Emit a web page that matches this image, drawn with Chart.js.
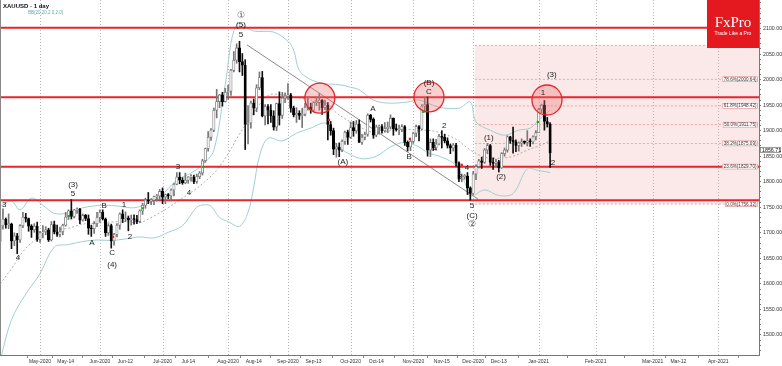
<!DOCTYPE html>
<html><head><meta charset="utf-8">
<script src="https://cdn.jsdelivr.net/npm/chart.js@4.4.1/dist/chart.umd.min.js"></script>
<style>html,body{margin:0;padding:0;background:#fff;}#wrap{position:relative;width:782px;height:366px;}</style>
</head><body><div id="wrap"><canvas id="c" width="782" height="366"></canvas></div>
<script>
// ---- DATA (trading-day index: 0 = 1 May 2020) ----
const firstIndex = -14;
const opens = [1683,1714,1727,1716,1717,1684,1694,1686,1714,1731,1728,1713,1706,1713,
1687,1700,1702,1706,1686,1716,1702,1697,1702,1715,1731,1743,1732,1745,1746,1725,1734,1728,1709,1708,1718,
1730,1740,1727,1700,1714,1684,1697,1715,1737,1727,1729,1725,1727,1726,1722,1743,1754,1764,1762,1764,1771,1772,
1781,1770,1775,1772,1784,1795,1809,1803,1798,1803,1809,1809,1800,1810,1817,1841,1865,1887,1901,1940,1957,1970,1957,
1975,1977,2018,2038,2062,2035,2028,1912,1915,1954,1944,1984,2004,1929,1947,1940,1929,1907,1953,1930,1964,
1968,1970,1944,1931,1934,1930,1932,1946,1946,1940,1955,1955,1960,1945,1950,1912,1900,1864,1868,1862,1879,1897,
1887,1906,1900,1913,1877,1887,1893,1930,1922,1891,1907,1908,1900,1904,1907,1924,1904,1902,1902,1908,1877,1868,
1879,1895,1908,1903,1948,1951,1862,1877,1866,1874,1889,1887,1880,1871,1866,1872,1837,1805,1810,1811,1788,
1777,1815,1830,1841,1838,1862,1871,1838,1836,1839,1827,1855,1862,1888,1881,1878,1871,1876,1878,1877,1880,1878,1888,
1896,1942,1950,1918,1913];
const highs = [1721,1747,1729,1737,1719,1700,1699,1716,1740,1738,1729,1716,1718,1721,
1703,1714,1712,1709,1722,1723,1715,1711,1717,1740,1745,1765,1746,1749,1748,1737,1736,1735,1715,1722,1740,
1745,1745,1729,1718,1717,1699,1718,1739,1745,1741,1733,1735,1735,1734,1745,1758,1768,1779,1767,1772,1775,1785,
1788,1776,1777,1786,1797,1818,1818,1808,1817,1810,1814,1813,1815,1820,1844,1866,1898,1904,1944,1981,1971,1975,1983,
1989,2020,2055,2070,2075,2051,2039,1949,1958,1962,1990,2015,2016,1951,1951,1951,1939,1954,1976,1975,1974,
1992,1973,1948,1945,1939,1944,1954,1966,1954,1957,1966,1973,1961,1960,1955,1918,1905,1875,1876,1882,1899,1901,
1917,1918,1920,1921,1893,1897,1933,1932,1925,1911,1911,1912,1916,1917,1931,1925,1913,1911,1912,1910,1880,1881,
1897,1911,1910,1951,1965,1966,1884,1884,1883,1893,1900,1893,1886,1874,1875,1875,1839,1815,1814,1818,1790,
1820,1833,1844,1848,1865,1875,1873,1847,1844,1842,1857,1866,1890,1889,1907,1882,1878,1884,1880,1900,1884,1890,1900,
1944,1952,1959,1926,1916];
const lows = [1680,1707,1709,1708,1669,1675,1659,1681,1710,1721,1703,1691,1701,1683,
1681,1690,1696,1683,1684,1698,1693,1692,1696,1713,1726,1727,1729,1738,1718,1723,1724,1697,1693,1699,1712,
1721,1725,1693,1695,1670,1676,1692,1707,1720,1722,1704,1715,1717,1718,1720,1736,1748,1757,1755,1755,1762,1765,
1757,1757,1767,1762,1772,1794,1796,1795,1796,1797,1801,1796,1797,1806,1813,1838,1860,1881,1898,1925,1945,1948,1956,
1961,1969,2015,2032,2015,2008,1863,1874,1905,1931,1937,1980,1927,1911,1913,1916,1901,1900,1911,1924,1955,
1961,1936,1927,1916,1922,1906,1929,1940,1934,1937,1949,1940,1932,1941,1882,1891,1853,1848,1849,1859,1873,1873,
1885,1889,1895,1877,1873,1882,1889,1917,1885,1888,1893,1895,1897,1896,1903,1891,1899,1892,1898,1871,1860,1861,
1875,1888,1880,1902,1936,1850,1849,1861,1862,1872,1866,1876,1866,1855,1860,1830,1800,1800,1805,1775,1764,
1775,1804,1827,1826,1836,1855,1832,1824,1830,1819,1826,1850,1858,1875,1856,1859,1860,1869,1874,1870,1869,1874,1882,
1896,1935,1901,1907,1828];
const closes = [1714,1727,1716,1717,1684,1694,1686,1714,1731,1728,1713,1706,1713,1687,
1700,1702,1706,1686,1716,1702,1697,1702,1715,1731,1743,1732,1745,1746,1725,1734,1728,1709,1708,1718,1730,
1740,1727,1700,1714,1684,1697,1715,1737,1727,1729,1725,1727,1726,1722,1743,1754,1764,1762,1764,1771,1772,1781,
1770,1775,1772,1784,1795,1809,1803,1798,1803,1809,1809,1800,1810,1817,1841,1865,1887,1901,1940,1957,1970,1957,1975,
1977,2018,2038,2062,2035,2028,1912,1915,1954,1944,1984,2004,1929,1947,1940,1929,1907,1953,1930,1964,1968,
1970,1944,1931,1934,1930,1932,1946,1946,1940,1955,1955,1960,1945,1950,1912,1900,1864,1868,1862,1879,1897,1887,
1906,1900,1913,1877,1887,1893,1930,1922,1891,1907,1908,1900,1904,1907,1924,1904,1902,1902,1908,1877,1868,1879,
1895,1908,1903,1948,1951,1862,1877,1866,1874,1889,1887,1880,1871,1866,1872,1837,1805,1810,1811,1788,1777,
1815,1830,1841,1838,1862,1871,1838,1836,1839,1827,1855,1862,1888,1881,1878,1871,1876,1878,1877,1880,1878,1888,1896,
1942,1950,1918,1913,1856.71];

// Bollinger bands (index, price)
const bbUpperIdx = [-14,-10,-7,-3,1,5,10,15,22,28,33,38,42,48,53,57,61,65,69,75,82,87,89,91,95,100,105,109,112,117,122,129,133,140,147,151,153,158,163,168,172,175,179];
const bbUpperVal = [1752,1762,1745,1768,1754,1738,1739,1749,1754,1752,1749,1758,1770,1803,1817,1833,1862,1990,2108,2095,2093,2075,2058,2018,2000,1992,1990,1985,1980,1960,1954,1956,1960,1946,1944,1956,1917,1901,1891,1901,1905,1921,1940];
const bbMidIdx = [-14,-10,-5,0,5,10,15,20,25,30,35,40,45,50,55,60,63,66,70,75,80,85,90,95,100,104,108,113,118,123,128,133,136,141,146,151,156,161,166,171,175,179];
const bbMidVal = [1600,1630,1670,1692,1705,1709,1717,1719,1721,1722,1720,1733,1749,1768,1787,1811,1830,1855,1893,1935,1969,1970,1965,1960,1955,1935,1920,1905,1895,1900,1903,1900,1901,1895,1883,1862,1848,1846,1850,1862,1870,1880];
const bbLowerIdx = [-14,-10,-5,0,5,10,15,20,25,30,35,40,45,50,55,58,60,63,66,70,73,75,77,80,85,90,95,100,102,104,108,113,118,123,128,133,136,141,146,149,151,156,161,166,171,175,179];
const bbLowerVal = [1450,1530,1580,1620,1672,1677,1683,1686,1685,1688,1692,1690,1701,1714,1750,1755,1752,1730,1722,1713,1740,1790,1850,1885,1880,1895,1905,1915,1900,1872,1856,1845,1850,1868,1877,1868,1857,1848,1832,1800,1772,1784,1773,1777,1825,1822,1818];

// horizontal levels
const redLevels = [2101.5, 1965.3, 1829.5, 1763.7];
const fibStartIdx = 152.6;
const fibValues = [2067.18, 2000.64, 1948.42, 1911.75, 1875.09, 1829.70, 1756.32];
const fibNames = ['100.0%(2067.18)','78.6%(2000.64)','61.8%(1948.42)','50.0%(1911.75)','38.2%(1875.09)','23.6%(1829.70)','0.0%(1756.32)'];
// trend line
const trendIdx = [72.6, 153.7];
const trendVal = [2068, 1766];
// circles
const circleIdx = [98.2, 136.5, 177.9];
const circleVal = [1963.8, 1966, 1960];
// wave labels
const ewText = ['3','4','(3)','5','A','B','C','(4)','1','2','3','4','①','(5)','5','(A)','A','B','(B)','C','1','2','3','4','5','(C)','②','(1)','(2)','1','(3)','2'];
const ewIdx = [-12.6,-7.7,11.6,11.6,18.2,22.5,25.3,25.3,29.5,31.6,48.4,52.3,70.5,70.5,70.5,106.3,116.8,129.5,136.5,136.5,138.6,141.8,147.4,149.8,151.6,151.6,151.6,157.5,161.8,176.5,179.6,180];
const ewPrice = [1754.5,1650.7,1793.6,1776,1680.1,1752.5,1660.5,1637,1754.5,1691.8,1828.9,1778,2124.5,2106.9,2087.3,1838.7,1942.4,1848.4,1993.3,1975.7,1866.1,1909.1,1809.3,1826.9,1752.5,1733,1715.3,1885.6,1809.3,1973.7,2009,1836.7];
// small signal dots
const dotIdx = [10.2, 25.6, 36.1, 57.2, 101.4, 129.8, 134.4, 148, 174.7];
const dotVal = [1733, 1692, 1748, 1829, 1921, 1884, 1937, 1833, 1917];
const dotColor = ['#2a2','#d22','#2a2','#2a2','#d22','#d22','#2a2','#d22','#2a2'];
// x-axis ticks
const xTickIdx = [0, 9, 21, 30, 43, 52, 66, 75, 87, 96, 109, 118, 131, 141, 152, 161, 175, 195, 215, 224, 238];
const xTickLabels = ['May-2020','May-14','Jun-2020','Jun-12','Jul-2020','Jul-14','Aug-2020','Aug-14','Sep-2020','Sep-13','Oct-2020','Oct-14','Nov-2020','Nov-15','Dec-2020','Dec-13','Jan-2021','Feb-2021','Mar-2021','Mar-12','Apr-2021'];
const monthIdx = [0, 21, 43, 66, 87, 109, 131, 152, 175, 195, 215, 238];
const lastPrice = 1856.71;

// ---- axis ranges ----
const xMin = -14.04, xMax = 252.3, yMin = 1460.8, yMax = 2155.8;

const idx = opens.map((_, k) => firstIndex + k);
const up = opens.map((o, k) => closes[k] >= o);
const pts = (xs, ys) => xs.map((x, k) => ({x, y: ys[k]}));
const line = (data, o) => Object.assign({type:'line', data, pointRadius:0, borderWidth:1, fill:false, order:5, tension:0}, o);

const datasets = [];
fibValues.forEach((v, k) => {
  datasets.push(line([{x: fibStartIdx, y: v}, {x: xMax, y: v}], {
    borderColor:'rgba(215,95,95,0.75)', borderWidth:0.7, borderDash:[2,2], order:20,
    fill: k === 0 ? fibValues.length - 1 : false, backgroundColor:'rgba(236,150,150,0.22)'
  }));
});
redLevels.forEach(v => datasets.push(line([{x:xMin,y:v},{x:xMax,y:v}], {borderColor:'#e5262c', borderWidth:2, order:4})));
datasets.push(line(pts(bbUpperIdx, bbUpperVal), {borderColor:'#9fcfd0', borderWidth:1, tension:0.35, order:6}));
datasets.push(line(pts(bbMidIdx, bbMidVal), {borderColor:'#9a9a9a', borderWidth:0.8, borderDash:[2,2], tension:0.35, order:6}));
datasets.push(line(pts(bbLowerIdx, bbLowerVal), {borderColor:'#9fcfd0', borderWidth:1, tension:0.35, order:6}));
datasets.push(line(pts(trendIdx, trendVal), {borderColor:'#8a8a8a', borderWidth:1, order:5}));
datasets.push({type:'bar', data: idx.map((x,k)=>({x, y:[lows[k], highs[k]]})), grouped:false, barThickness:1,
  backgroundColor: idx.map((_,k)=> up[k] ? '#777' : '#111'), borderWidth:0, order:3});
datasets.push({type:'bar', data: idx.map((x,k)=>({x, y:[opens[k], closes[k]]})), grouped:false, barThickness:2.4, minBarLength:1,
  backgroundColor: idx.map((_,k)=> up[k] ? '#ffffff' : '#000000'),
  borderColor: idx.map((_,k)=> up[k] ? '#7a7a7a' : '#000000'), borderWidth:0.8, borderSkipped:false, order:2});
datasets.push({type:'scatter', data: pts(circleIdx, circleVal), pointRadius:15, pointHoverRadius:15,
  backgroundColor:'rgba(240,110,110,0.33)', borderColor:'#e3262c', borderWidth:1.3, order:1});
datasets.push({type:'scatter', data: pts(dotIdx, dotVal), pointRadius:1.6, pointStyle:'rect',
  backgroundColor: dotColor, borderWidth:0, order:0});

const deco = {
  id:'deco',
  beforeDatasetsDraw(chart){
    const {ctx, chartArea:a, scales:{x}} = chart;
    ctx.save(); ctx.strokeStyle='#b5b5b5'; ctx.lineWidth=1; ctx.setLineDash([1,2]);
    monthIdx.forEach(v => { const px = Math.round(x.getPixelForValue(v)) + 0.5;
      ctx.beginPath(); ctx.moveTo(px, a.top); ctx.lineTo(px, a.bottom); ctx.stroke(); });
    ctx.restore();
  },
  afterDatasetsDraw(chart){
    const {ctx, chartArea:a, scales:{x, y}} = chart;
    ctx.save();
    ctx.textAlign='center'; ctx.textBaseline='middle'; ctx.fillStyle='#222';
    ewText.forEach((t, k) => {
      const circ = t === '①' || t === '②';
      ctx.font = circ ? '9px "DejaVu Sans"' : '8px "Liberation Sans"';
      ctx.fillStyle = circ ? '#555' : '#222';
      ctx.fillText(t, x.getPixelForValue(ewIdx[k]), y.getPixelForValue(ewPrice[k]));
    });
    // fib labels
    ctx.font='4.6px "Liberation Sans"'; ctx.textAlign='right';
    fibValues.forEach((v, k) => {
      const py = y.getPixelForValue(v); const w = ctx.measureText(fibNames[k]).width + 3;
      const rx = a.right - 1;
      ctx.fillStyle='#fff'; ctx.fillRect(rx - w, py - 3, w, 6);
      ctx.strokeStyle='rgba(215,95,95,0.8)'; ctx.lineWidth=0.6; ctx.strokeRect(rx - w + 0.5, py - 2.5, w - 1, 5);
      ctx.fillStyle='#333'; ctx.fillText(fibNames[k], rx - 1.5, py + 0.3);
    });
    ctx.restore();
  },
  afterDraw(chart){
    const {ctx, chartArea:a, scales:{y}} = chart;
    ctx.save();
    ctx.strokeStyle='#888'; ctx.lineWidth=1;
    ctx.beginPath(); ctx.moveTo(a.left+0.5, a.top); ctx.lineTo(a.left+0.5, a.bottom); ctx.stroke();
    // logo
    ctx.fillStyle='#e3191f'; ctx.fillRect(707, 0, a.right - 707, 48);
    ctx.fillStyle='#fff'; ctx.textAlign='center'; ctx.textBaseline='alphabetic';
    ctx.font='15px "Liberation Serif"'; ctx.fillText('FxPro', 733, 27);
    ctx.font='5px "Liberation Sans"'; ctx.fillText('Trade Like a Pro', 733, 35);
    // title
    ctx.textAlign='left'; ctx.fillStyle='#111'; ctx.font='bold 6px "Liberation Sans"';
    ctx.fillText('XAUUSD - 1 day', 3, 8);
    ctx.fillStyle='#5fa9a9'; ctx.font='4.5px "Liberation Sans"';
    ctx.fillText('BB(20,20,2.0,2.0)', 28, 14);
    // last price box
    const py = y.getPixelForValue(lastPrice) - 3;
    ctx.fillStyle='#fff'; ctx.fillRect(a.right + 1, py - 3, 21, 6);
    ctx.strokeStyle='#555'; ctx.lineWidth=0.6; ctx.strokeRect(a.right + 1.5, py - 2.5, 20, 5);
    ctx.fillStyle='#111'; ctx.font='5.3px "Liberation Sans"'; ctx.textBaseline='middle';
    ctx.fillText(lastPrice.toFixed(2), a.right + 3, py + 0.3);
    ctx.restore();
  }
};

const noPad = s => { s.paddingTop = 0; s.paddingBottom = 0; s.paddingLeft = 0; s.paddingRight = 0; };

new Chart(document.getElementById('c'), {
  type:'bar',
  data:{datasets},
  options:{
    responsive:false, animation:false, devicePixelRatio:1,
    layout:{padding:0, autoPadding:false},
    plugins:{legend:{display:false}, tooltip:{enabled:false}, filler:{drawTime:'beforeDatasetDraw'}},
    scales:{
      x:{type:'linear', min:xMin, max:xMax, offset:false,
        afterBuildTicks: s => { s.ticks = xTickIdx.map(v => ({value:v})); },
        ticks:{autoSkip:false, maxRotation:0, minRotation:0, padding:1, color:'#333',
          font:{size:5, family:'"Liberation Sans"'},
          callback: v => { const k = xTickIdx.indexOf(v); return k >= 0 ? xTickLabels[k] : ''; }},
        grid:{drawOnChartArea:false, tickLength:3, tickColor:'#888'},
        border:{color:'#777'},
        afterFit: s => { s.height = 11; noPad(s); }},
      y:{type:'linear', position:'right', min:yMin, max:yMax,
        afterBuildTicks: s => { const t=[]; for (let v=1470; v<=2150; v+=10) t.push({value:v}); s.ticks = t; },
        ticks:{autoSkip:false, padding:2, color:'#333', font:{size:5.3, family:'"Liberation Sans"'},
          callback: v => (Math.abs(v % 50) < 0.01 && v >= 1500 && v <= 2100) ? v.toFixed(2) : ''},
        grid:{drawOnChartArea:false, tickLength:2, tickColor:'#777'},
        border:{color:'#777'},
        afterFit: s => { s.width = 23; noPad(s); }}
    }
  },
  plugins:[deco]
});
</script></body></html>
